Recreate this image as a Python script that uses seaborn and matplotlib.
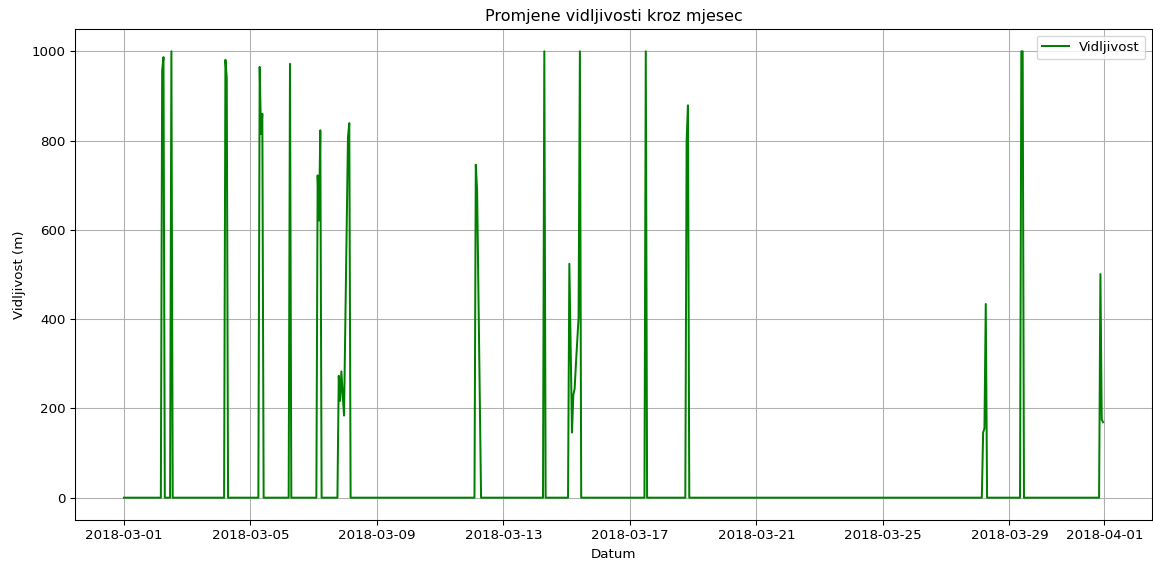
import numpy as np
import pandas as pd
import matplotlib
matplotlib.use('Agg')
import matplotlib.pyplot as plt
import seaborn as sns

# hourly visibility for March 2018 - zero except for these hours
start = '2018-03-01 00:00'
n_hours = 744

# hour offset from start -> visibility (m)
spike_hours = [29, 30, 36,
               77, 78,
               103, 104, 105,
               126,
               147, 148, 149,
               163, 164, 165, 166, 167, 168, 169, 170, 171,
               267, 268, 269, 270,
               319,
               338, 339, 340, 341, 342, 343, 344, 345, 346,
               396,
               427, 428,
               652, 653, 654,
               681, 682,
               741, 742, 743]
spike_values = [957, 987, 1000,
                981, 940,
                965, 815, 860,
                972,
                722, 621, 823,
                273, 217, 283, 230, 184, 392, 600, 808, 839,
                746, 688, 460, 230,
                1000,
                524, 330, 146, 230, 244, 300, 350, 404, 1000,
                1000,
                800, 879,
                146, 155, 434,
                1000, 1000,
                501, 175, 169]

vis = np.zeros(n_hours)
vis[spike_hours] = spike_values

df = pd.DataFrame({
    'Datum': pd.date_range(start, periods=n_hours, freq='h'),
    'Vidljivost': vis,
})

fig, ax = plt.subplots(figsize=(1153 / 96, 562 / 96), dpi=96)
fig.subplots_adjust(left=75 / 1153, right=1152 / 1153, top=1 - 29 / 562, bottom=1 - 520 / 562)

sns.lineplot(data=df, x='Datum', y='Vidljivost', color='green', label='Vidljivost', ax=ax)

ax.set_title('Promjene vidljivosti kroz mjesec')
ax.set_xlabel('Datum')
ax.set_ylabel('Vidljivost (m)')
ax.grid(True)
ax.legend(loc='upper right')

fig.savefig('out.png', dpi=96)
